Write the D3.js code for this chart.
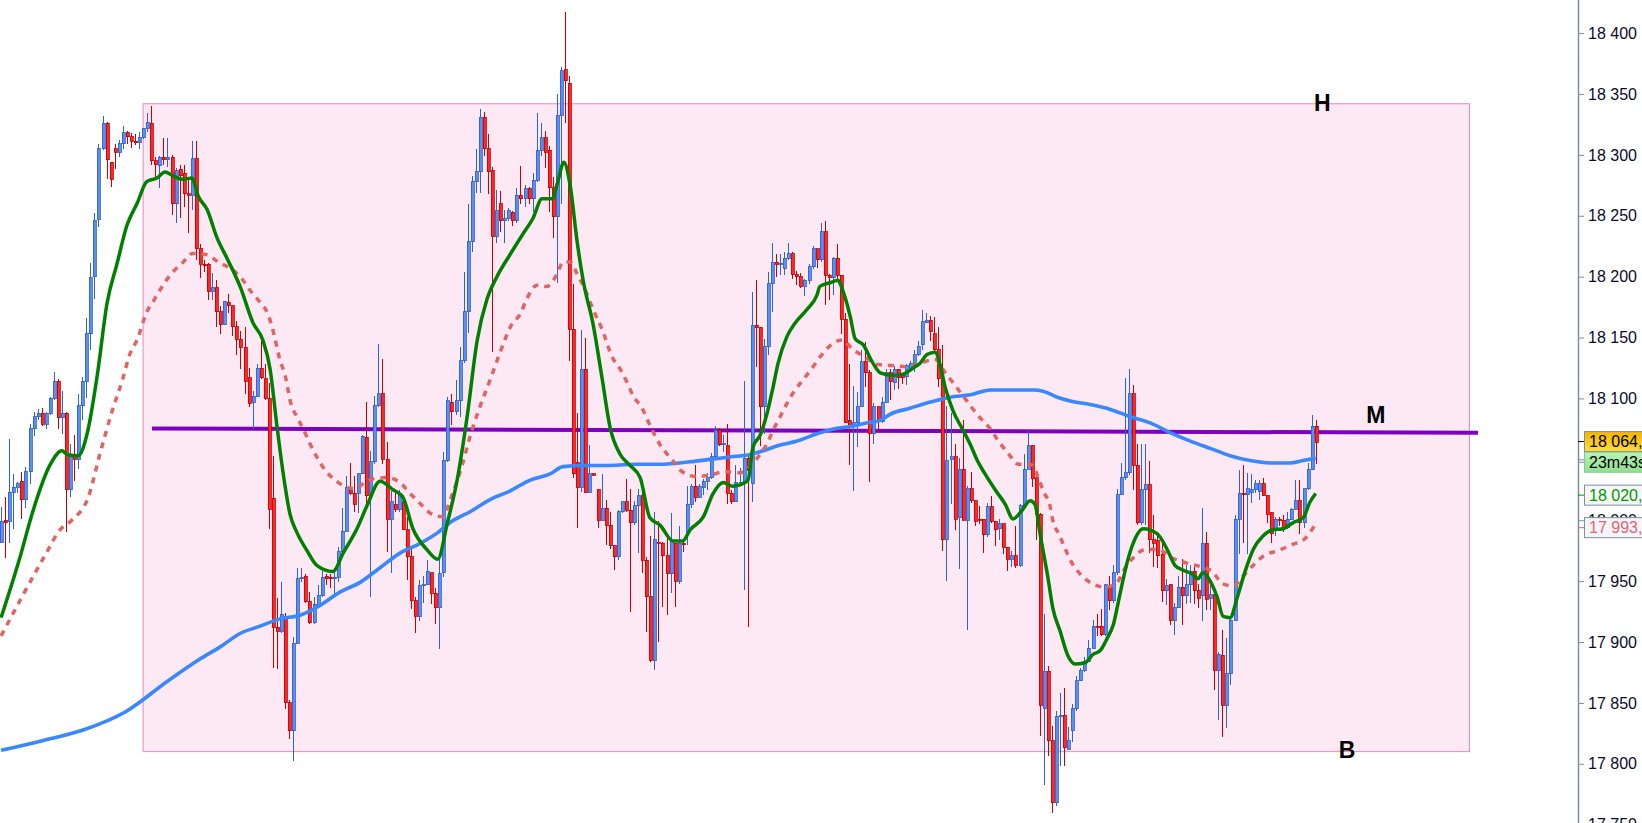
<!DOCTYPE html>
<html>
<head>
<meta charset="utf-8">
<script src="https://cdn.jsdelivr.net/npm/d3@7"></script>
<style>
  body { margin: 0; background: #fff; overflow: hidden; }
  svg { display: block; }
  text { font-family: "Liberation Sans", Arial, sans-serif; }
</style>
</head>
<body>
<svg id="canvas" width="1642" height="823"></svg>
<script>
// ************************************************************************************** //
// Data

var opens = [17982,18000,17999,18023,18027,18032,18017,18040,18075,18085,18088,18079,18088,18100,18114,18084,18088,18025,18053,18050,
  18094,18114,18153,18200,18247,18305,18326,18294,18305,18302,18309,18318,18315,18311,18310,18314,18322,18326,18295,18291,
  18298,18296,18298,18260,18288,18285,18268,18267,18297,18223,18210,18210,18188,18191,18171,18161,18179,18176,18159,18148,
  18142,18117,18097,18102,18125,18116,18100,18018,17912,17909,17921,17850,17827,17899,17952,17954,17933,17916,17930,17938,
  17954,17953,17952,17953,17974,17991,18027,18022,18022,18038,18068,18020,18048,18094,18104,18050,18001,18013,18009,18015,
  17992,17970,17934,17921,17946,17947,17957,17940,17928,17957,18049,18097,18089,18098,18131,18171,18229,18278,18286,18331,
  18305,18287,18233,18260,18246,18248,18253,18246,18267,18264,18272,18264,18279,18304,18314,18304,18273,18249,18332,18370,
  18359,18157,18047,18027,18124,18023,18038,18025,18000,18010,17996,17979,17970,18007,18015,18008,17998,18012,18020,17967,
  17937,17885,17982,17981,17971,17956,17981,17950,17981,17990,18013,18028,18019,18027,18032,18035,18052,18074,18062,18061,
  18022,18015,18031,18031,18051,18030,18160,18158,18093,18143,18194,18212,18210,18207,18215,18219,18202,18200,18192,18197,
  18208,18223,18214,18237,18201,18199,18215,18201,18165,18082,18078,18080,18093,18130,18121,18071,18093,18081,18097,18121,
  18113,18124,18119,18118,18125,18129,18136,18144,18162,18164,18153,18140,18116,17984,18050,18052,18002,18042,18000,18026,
  18016,18001,18001,17988,18011,17999,17993,17997,17978,17968,17971,17963,18012,18042,18061,18035,18005,17845,17876,17819,
  17768,17839,17840,17812,17827,17845,17868,17877,17884,17895,17913,17913,17906,17946,17934,17957,18021,18035,18039,18104,
  18045,17998,18025,18029,17984,17983,17972,17942,17947,17918,17928,17945,17938,17947,17958,17942,17938,17981,17936,17939,
  17877,17889,17848,17874,17918,18001,18022,18021,18023,18025,18024,18030,18020,18006,17993,18001,18000,17994,18001,18009,
  18016,17998,18026,18042,18077];
var highs = [18011,18019,18067,18038,18031,18040,18044,18079,18089,18091,18092,18089,18101,18122,18116,18106,18089,18063,18070,18104,
  18118,18166,18211,18252,18309,18332,18327,18294,18309,18312,18324,18320,18318,18317,18319,18322,18334,18340,18298,18299,
  18314,18314,18300,18289,18292,18292,18282,18311,18311,18227,18214,18211,18203,18197,18176,18180,18186,18176,18164,18155,
  18159,18125,18106,18128,18150,18128,18113,18053,17936,17949,17924,17852,17904,17961,17961,17956,17941,17937,17947,17958,
  17956,17956,17961,17978,18010,18036,18047,18036,18039,18070,18097,18057,18102,18145,18132,18064,18024,18022,18025,18021,
  18003,17978,17937,17951,17954,17967,17957,17944,17968,18056,18101,18104,18115,18142,18204,18260,18283,18305,18338,18335,
  18317,18290,18271,18270,18255,18256,18254,18273,18291,18275,18274,18285,18334,18326,18320,18307,18282,18350,18372,18417,
  18365,18194,18088,18156,18150,18062,18039,18026,18038,18017,18007,17980,18008,18015,18034,18026,18016,18026,18023,17970,
  17987,18007,17999,17982,17987,18006,17981,17995,17982,18028,18030,18045,18030,18034,18039,18055,18077,18076,18070,18079,
  18025,18045,18043,18114,18055,18187,18197,18159,18149,18204,18228,18219,18219,18220,18228,18220,18205,18203,18198,18210,
  18225,18223,18244,18246,18202,18216,18227,18201,18170,18128,18110,18105,18140,18146,18123,18096,18093,18101,18124,18124,
  18127,18124,18120,18128,18131,18140,18147,18173,18170,18168,18167,18159,18144,18094,18088,18063,18051,18082,18028,18040,
  18017,18012,18001,18014,18020,17999,18001,17997,17978,17975,17995,18013,18054,18073,18062,18035,18006,17923,17880,17831,
  17843,17858,17862,17830,17849,17872,17879,17888,17902,17918,17923,17927,17948,17954,17963,18026,18047,18117,18124,18111,
  18063,18063,18063,18049,18004,17990,17981,17952,17948,17932,17954,17968,17963,17963,17962,17948,18010,17990,17950,17940,
  17892,17910,17903,17919,18004,18041,18045,18039,18038,18033,18033,18035,18021,18007,18003,18003,18004,18007,18010,18033,
  18033,18026,18047,18086,18082];
var lows = [17981,17969,17981,17993,18022,18001,18010,18030,18069,18082,18077,18075,18086,18099,18075,18071,17990,18019,18032,18042,
  18082,18100,18140,18182,18241,18304,18280,18274,18288,18298,18305,18309,18306,18308,18305,18313,18319,18292,18282,18273,
  18292,18290,18251,18244,18248,18257,18236,18255,18214,18199,18204,18181,18181,18159,18153,18160,18170,18151,18136,18124,
  18104,18093,18075,18101,18116,18099,17993,17879,17878,17907,17845,17820,17802,17898,17949,17932,17915,17915,17930,17937,
  17947,17944,17939,17949,17973,17990,18021,18007,18006,18038,18010,17937,18046,18093,18046,17974,17957,18007,18007,17992,
  17951,17927,17907,17917,17932,17947,17931,17915,17894,17953,18048,18078,18086,18085,18129,18154,18220,18269,18269,18299,
  18268,18138,18228,18237,18228,18246,18242,18244,18260,18257,18260,18253,18278,18299,18289,18253,18232,18195,18260,18326,
  18131,18035,17994,18023,18022,18022,18036,17994,17999,17980,17976,17959,17967,18006,18007,17925,17996,17973,17957,17908,
  17884,17877,17900,17929,17922,17940,17929,17948,17974,17980,18010,18015,18018,18021,18025,18034,18051,18061,18056,18013,
  18013,18015,18030,17943,17912,18015,18126,18061,18071,18136,18171,18200,18201,18201,18214,18198,18193,18191,18184,18194,
  18206,18207,18212,18177,18181,18185,18197,18153,18080,18045,18024,18060,18093,18109,18031,18063,18072,18080,18096,18099,
  18107,18108,18112,18111,18122,18122,18135,18140,18162,18147,18137,18109,17975,17950,18013,17992,17960,18000,17910,18014,
  17995,17997,17973,17986,17998,17979,17984,17972,17958,17962,17961,17962,18012,18042,18027,17984,17823,17783,17806,17760,
  17765,17798,17798,17811,17818,17843,17868,17875,17884,17894,17905,17905,17905,17926,17932,17955,18021,18033,18037,18025,
  17996,17996,17996,17973,17962,17961,17933,17930,17914,17906,17928,17914,17931,17932,17931,17928,17917,17926,17926,17861,
  17836,17822,17829,17865,17917,17972,17981,17972,18014,18022,18017,18020,17998,17981,17987,17995,17990,17993,18000,18009,
  17989,17994,18025,18041,18046];
var closes = [17999,17998,18023,18027,18030,18017,18040,18075,18085,18088,18079,18088,18100,18114,18084,18088,18025,18052,18050,18094,
  18114,18153,18199,18246,18305,18326,18296,18280,18302,18309,18318,18315,18311,18310,18314,18322,18327,18295,18292,18298,
  18296,18298,18260,18287,18283,18268,18267,18297,18223,18210,18209,18188,18191,18171,18161,18180,18176,18159,18148,18142,
  18114,18096,18102,18125,18117,18100,18009,17912,17909,17923,17850,17827,17899,17952,17953,17933,17916,17931,17938,17953,
  17952,17952,17953,17974,17991,18027,18022,18013,18038,18069,18020,18048,18094,18104,18050,18001,18015,18009,18022,17992,
  17970,17934,17921,17946,17947,17958,17940,17928,17956,18049,18098,18089,18098,18131,18171,18229,18278,18286,18331,18305,
  18286,18233,18254,18246,18248,18254,18246,18267,18264,18272,18264,18279,18304,18314,18302,18273,18249,18332,18369,18361,
  18157,18038,18027,18124,18023,18038,18037,18000,18010,17996,17979,17970,18007,18015,18008,17998,18012,18020,17967,17937,
  17885,17984,17981,17971,17956,17983,17950,17981,17980,18013,18028,18019,18028,18032,18035,18052,18074,18062,18063,18022,
  18015,18031,18031,18051,18041,18160,18158,18093,18143,18194,18212,18210,18211,18215,18219,18202,18200,18192,18197,18208,
  18223,18214,18237,18201,18199,18215,18201,18165,18080,18078,18080,18093,18130,18121,18071,18093,18082,18097,18121,18114,
  18124,18117,18117,18127,18129,18136,18143,18163,18164,18155,18140,18116,17984,18049,18052,18001,18042,18000,18026,18016,
  17999,18000,17988,18011,17999,17992,17997,17978,17968,17971,17963,18012,18042,18061,18034,18005,17848,17876,17819,17768,
  17839,17840,17813,17819,17845,17868,17877,17884,17895,17913,17912,17906,17947,17934,17957,18021,18035,18039,18104,18045,
  17998,18025,18029,17984,17981,17971,17942,17946,17918,17928,17945,17938,17947,17958,17942,17936,17981,17935,17939,17877,
  17890,17848,17874,17918,18001,18022,18021,18026,18025,18030,18030,18020,18005,17989,18001,18000,17994,18001,18009,18016,
  17998,18026,18042,18077,18064];

// moving averages, [candle index, price]
var maFast = [[0,17920],[4.6,17969],[7.8,18007],[12,18045],[15,18057],[16.3,18054],[19,18053],[21.2,18071],[23.7,18119],[26.1,18178],
  [28.6,18211],[31,18242],[33.5,18260],[35.9,18278],[38.4,18281],[40.4,18286],[42.3,18283],[44.8,18280],[47,18281],[48.6,18266],
  [50.8,18255],[53.2,18232],[55.7,18215],[58.9,18192],[62.1,18162],[64.5,18148],[66.3,18124],[68,18077],[69.5,18039],[71.2,18005],
  [72.9,17990],[75.4,17975],[77.8,17963],[81.8,17958],[84.3,17973],[87.7,17993],[90.2,18012],[93.4,18032],[96.6,18025],[99,18019],
  [101.5,17993],[104.9,17976],[107.6,17968],[110,17998],[112.4,18033],[114.9,18086],[117.3,18147],[119.8,18182],[122.2,18200],[125.4,18218],
  [128.6,18235],[131.1,18248],[133.3,18264],[135.8,18264],[137.2,18278],[138.7,18294],[140.2,18276],[142,18228],[143.5,18196],[145.9,18161],
  [148.1,18117],[150.1,18076],[152.6,18054],[155,18045],[157.5,18035],[159.9,18002],[162.4,17996],[165.6,17983],[168,17983],[169.8,17992],
  [173.1,18003],[175.5,18022],[178,18031],[180.2,18028],[182.1,18029],[184.1,18033],[185.3,18060],[187.1,18070],[188.8,18088],[190.3,18110],
  [191.5,18129],[193.7,18151],[195.7,18162],[198.6,18173],[201.1,18185],[201.8,18192],[204.3,18195],[206.3,18197],[207.3,18190],[209.3,18167],
  [210.5,18149],[212.5,18144],[214.7,18130],[216.7,18121],[219.8,18119],[222.3,18120],[224.8,18125],[226.5,18129],[228.2,18136],[230.2,18138],
  [231.4,18128],[232.7,18109],[234.6,18090],[236.9,18075],[238.9,18062],[240.6,18049],[242.5,18038],[245,18025],[247.5,18013],[249.4,18001],
  [251.6,18008],[253.6,18016],[254.8,18013],[256.1,17988],[258,17953],[259.2,17928],[261,17909],[262.9,17889],[264.7,17882],[267.1,17883],
  [269.2,17890],[270.9,17893],[272.6,17903],[274.1,17914],[275.8,17940],[277.5,17965],[279,17981],[281.5,17993],[284.9,17989],[287.4,17976],
  [289.3,17963],[291.3,17959],[293.5,17956],[295,17952],[296.2,17957],[298,17950],[299.7,17937],[301.2,17921],[302.9,17920],[304.7,17937],
  [306.6,17958],[308.6,17976],[311,17987],[313.3,17992],[316,17993],[318.4,17998],[320.9,18002],[322.6,18015],[324,18022]];
var maSlow = [[0,17905],[10.8,17971],[14.5,17992],[17.4,18000],[21.5,18019],[24.4,18055],[27.4,18090],[29.8,18114],[31.8,18137],[33.5,18148],
  [35.9,18171],[37.9,18182],[39.9,18193],[42.1,18203],[44.6,18211],[47.2,18219],[50.8,18218],[53.5,18212],[56.9,18206],[59.4,18198],
  [61.3,18189],[63.8,18179],[65.8,18169],[67,18156],[68.7,18132],[70,18119],[71.4,18096],[72.9,18085],[74.6,18074],[76.1,18063],
  [77.8,18052],[79.9,18041],[82.3,18033],[85.3,18027],[87.3,18026],[89.2,18030],[91.7,18034],[95.1,18035],[98.3,18031],[100.8,18022],
  [103.2,18014],[105.7,18006],[108.6,18003],[111.4,18023],[113.7,18046],[115.6,18069],[118.1,18094],[120.5,18115],[123,18138],[125.9,18161],
  [127.9,18169],[129.6,18182],[132.1,18193],[134.5,18192],[137,18202],[138.5,18212],[140.3,18212],[142,18202],[144,18189],[145.9,18173],
  [148.1,18157],[150.6,18134],[152.6,18124],[154.3,18113],[155.8,18102],[158,18092],[159.5,18081],[162.4,18062],[165.3,18050],[167.8,18040],
  [171,18036],[174.8,18037],[178.5,18040],[182.1,18039],[184.6,18044],[186.6,18052],[188.8,18063],[190.3,18074],[192,18085],[193.7,18096],
  [195.7,18107],[197.6,18115],[200.1,18126],[202.3,18136],[204.9,18145],[207.3,18148],[210,18140],[213,18134],[215.9,18128],[219.6,18127],
  [223.3,18126],[230.2,18132],[232.7,18121],[234.6,18113],[236.9,18103],[238.9,18094],[241.3,18084],[243.8,18075],[245.8,18065],[248.2,18055],
  [250.7,18046],[253.1,18046],[254.3,18045],[255.6,18035],[257,18023],[258.5,18012],[259.2,18000],[260.8,17988],[262.2,17977],[263.9,17965],
  [265.9,17956],[268.9,17948],[272.1,17945],[275.1,17949],[276.5,17958],[279,17969],[282,17976],[285.2,17976],[288.6,17969],[292,17965],
  [295.5,17962],[298.5,17958],[301,17948],[303.7,17946],[306.1,17954],[308.6,17963],[311.3,17971],[314.7,17975],[318.2,17980],[321.4,17985],
  [323.6,17995]];
var maLong = [[0,17811],[10.1,17819],[20.4,17828],[30.8,17843],[41.1,17868],[49,17886],[54,17896],[58.9,17907],[63.8,17913],[68.7,17919],
  [73.7,17922],[78.6,17930],[83.5,17941],[88.5,17949],[93.4,17961],[98.3,17973],[103.3,17981],[107.7,17990],[110.6,17998],[115.6,18007],
  [120.5,18017],[125.4,18024],[130.4,18033],[135.3,18038],[138.5,18044],[143.4,18045],[150.1,18045],[156.7,18046],[162.4,18046],[169.8,18048],
  [174.8,18050],[179.7,18052],[184.6,18054],[187.8,18057],[191.2,18061],[196.2,18065],[201.1,18071],[205.1,18075],[209.3,18077],[213.5,18080],
  [216.7,18082],[219.1,18087],[224,18092],[229,18097],[233.9,18101],[238.9,18103],[243.8,18107],[248.7,18107],[254.4,18107],[256.8,18106],
  [260.3,18101],[263.5,18098],[268.4,18095],[273.4,18091],[278.3,18085],[283.2,18080],[288.1,18072],[293.1,18065],[298,18059],[302.9,18053],
  [307.8,18049],[312.8,18047],[317.7,18047],[320.9,18049],[324,18051]];

// range box H / B and mid line M
var boxIdx = [35, 361.9];
var boxPrice = [18342, 17810];
var midLine = [[37.2, 18075.3], [364, 18071.8]];
var levelNames = ['H', 'M', 'B'];
var levelAt = [[325.6, 18343], [338.8, 18086.5], [331.7, 17811.4]];

var yTickValues = [17750,17800,17850,17900,17950,18000,18050,18100,18150,18200,18250,18300,18350,18400];

var tagTexts = ['18\u00a0064,57', '23m43s', '18\u00a0020,62', '17\u00a0993,91'];
var tagPrices = [18064.6, 18047.6, 18020.6, 17993.9];

// ************************************************************************************** //
// Scales

var svg = d3.select('#canvas');
var x = d3.scaleLinear().domain([0, closes.length - 1]).range([1.1, 1315.7]);
var y = d3.scaleLinear().domain([17800, 18400]).range([763.8, 33.1]);
var axisX = 1578;

var defs = svg.append('defs');
var gYellow = defs.append('linearGradient').attr('id', 'gYellow').attr('x1', 0).attr('y1', 0).attr('x2', 0).attr('y2', 1);
gYellow.append('stop').attr('offset', '0%').attr('stop-color', '#f4b400');
gYellow.append('stop').attr('offset', '100%').attr('stop-color', '#ffdc3c');
var gGreen = defs.append('linearGradient').attr('id', 'gGreen').attr('x1', 0).attr('y1', 0).attr('x2', 0).attr('y2', 1);
gGreen.append('stop').attr('offset', '0%').attr('stop-color', '#b8f2b8');
gGreen.append('stop').attr('offset', '100%').attr('stop-color', '#8fe08f');

// ************************************************************************************** //
// Range box

svg.append('rect')
  .attr('x', x(boxIdx[0])).attr('y', y(boxPrice[0]))
  .attr('width', x(boxIdx[1]) - x(boxIdx[0])).attr('height', y(boxPrice[1]) - y(boxPrice[0]))
  .attr('fill', '#fde9f4').attr('stroke', '#f285c0').attr('stroke-width', 1);

svg.append('line')
  .attr('x1', x(midLine[0][0])).attr('y1', y(midLine[0][1]))
  .attr('x2', x(midLine[1][0])).attr('y2', y(midLine[1][1]))
  .attr('stroke', '#7d00bf').attr('stroke-width', 4);

// ************************************************************************************** //
// Candles

var candles = svg.append('g').attr('shape-rendering', 'crispEdges');
closes.forEach(function(c, i){
  var o = opens[i], up = c >= o;
  var cx = Math.round(x(i)) + 0.5;
  candles.append('line')
    .attr('x1', cx).attr('x2', cx).attr('y1', y(highs[i])).attr('y2', y(lows[i]))
    .attr('stroke', up ? '#2c62d4' : '#cc0000').attr('stroke-width', 1);
  var top = y(Math.max(o, c)), h = Math.max(1, Math.abs(y(o) - y(c)));
  candles.append('rect')
    .attr('x', cx - 1.5).attr('y', top).attr('width', 3).attr('height', h)
    .attr('fill', up ? '#5a8ff2' : '#ff2626')
    .attr('stroke', up ? '#2a5cd0' : '#c40000').attr('stroke-width', 0.8);
});

// ************************************************************************************** //
// Moving averages

var lineGen = d3.line().x(function(d){ return x(d[0]); }).y(function(d){ return y(d[1]); }).curve(d3.curveMonotoneX);

svg.append('path').attr('d', lineGen(maLong))
  .attr('fill', 'none').attr('stroke', '#3a88ff').attr('stroke-width', 3.6);
svg.append('path').attr('d', lineGen(maSlow))
  .attr('fill', 'none').attr('stroke', '#e06464').attr('stroke-width', 3.5).attr('stroke-dasharray', '6,6');
svg.append('path').attr('d', lineGen(maFast))
  .attr('fill', 'none').attr('stroke', '#008000').attr('stroke-width', 3.5);

// ************************************************************************************** //
// Level labels

svg.selectAll('.level').data(levelNames).enter().append('text')
  .attr('class', 'level')
  .attr('x', function(d, i){ return x(levelAt[i][0]); })
  .attr('y', function(d, i){ return y(levelAt[i][1]); })
  .attr('text-anchor', 'middle').attr('dominant-baseline', 'central')
  .style('font-size', '23px').style('font-weight', 'bold').style('fill', '#000')
  .text(function(d){ return d; });

// ************************************************************************************** //
// Price axis

svg.append('rect').attr('x', axisX).attr('y', 0).attr('width', 1642 - axisX).attr('height', 823).attr('fill', '#fff');

var yAxis = d3.axisRight(y).tickValues(yTickValues).tickSize(6).tickPadding(4)
  .tickFormat(function(d){ return d3.format(',')(d).replace(',', '\u00a0'); });
var axisG = svg.append('g').attr('transform', 'translate(' + axisX + ',0)').call(yAxis);
axisG.select('.domain').remove();
axisG.selectAll('.tick line').attr('stroke', '#7d8e9e');
axisG.selectAll('.tick text').style('font-size', '16px').style('fill', '#0b0b2b')
  .style('font-family', '"Liberation Sans", Arial, sans-serif');

svg.append('line').attr('x1', axisX + 0.5).attr('x2', axisX + 0.5).attr('y1', 0).attr('y2', 823)
  .attr('stroke', '#7d8e9e').attr('stroke-width', 1.5);

// price tags
var tagFill = ['url(#gYellow)', 'url(#gGreen)', '#f6f6f6', '#f6f6f6'];
var tagText = ['#000', '#000', '#009a00', '#e8607a'];
var tagTick = ['#000', '#7d8e9e', '#009a00', '#e8607a'];
tagTexts.forEach(function(t, i){
  var cy = y(tagPrices[i]);
  svg.append('line').attr('x1', axisX).attr('x2', axisX + 6).attr('y1', cy).attr('y2', cy)
    .attr('stroke', tagTick[i]).attr('stroke-width', 1);
  svg.append('rect').attr('x', 1584.5).attr('y', cy - 10).attr('width', 80).attr('height', 20)
    .attr('fill', tagFill[i]).attr('stroke', i == 1 ? '#8cc88c' : '#7d8fa2').attr('stroke-width', 1);
  svg.append('text').attr('x', 1589).attr('y', cy).attr('dominant-baseline', 'central')
    .style('font-size', '16px').style('fill', tagText[i]).text(t);
});
</script>
</body>
</html>
